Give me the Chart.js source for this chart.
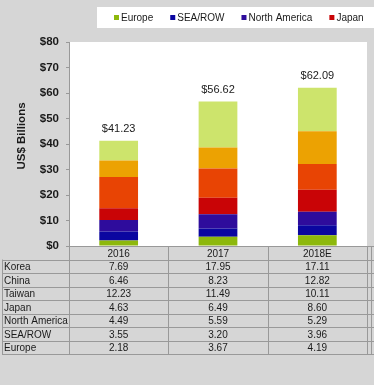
<!DOCTYPE html>
<html>
<head>
<meta charset="utf-8">
<script src="https://cdn.jsdelivr.net/npm/chart.js@4"></script>
<style>
  html, body { margin: 0; padding: 0; background: #d6d6d6; overflow: hidden; }
  #wrap { width: 374px; height: 385px; }
</style>
</head>
<body>
<div id="wrap"><canvas id="c" width="374" height="385"></canvas></div>
<script>
var years = ['2016', '2017', '2018E'];
// stack order, bottom to top
var europe = [2.18, 3.67, 4.19];
var seaRow = [3.55, 3.20, 3.96];
var northAmerica = [4.49, 5.59, 5.29];
var japan = [4.63, 6.49, 8.60];
var taiwan = [12.23, 11.49, 10.11];
var china = [6.46, 8.23, 12.82];
var korea = [7.69, 17.95, 17.11];
// totals as printed above the bars
var totalLabels = ['$41.23', '$56.62', '$62.09'];
var yTicks = [0, 10, 20, 30, 40, 50, 60, 70, 80];

var FONT = '"Liberation Sans", Arial, sans-serif';

var sets = [
  { label: 'Europe', data: europe, color: '#8db80c' },
  { label: 'SEA/ROW', data: seaRow, color: '#0a06a0' },
  { label: 'North America', data: northAmerica, color: '#2e0c9c' },
  { label: 'Japan', data: japan, color: '#c90406' },
  { label: 'Taiwan', data: taiwan, color: '#e84404' },
  { label: 'China', data: china, color: '#eca202' },
  { label: 'Korea', data: korea, color: '#cde46c' }
];

var extras = {
  id: 'extras',
  beforeDraw: function (chart) {
    var ctx = chart.ctx, a = chart.chartArea;
    ctx.save();
    ctx.fillStyle = '#ffffff';
    ctx.fillRect(a.left, a.top, a.right - a.left, a.bottom - a.top);
    ctx.restore();
  },
  afterDraw: function (chart) {
    var ctx = chart.ctx, a = chart.chartArea;
    var x = chart.scales.x;
    ctx.save();

    // y title
    ctx.translate(22, 136);
    ctx.rotate(-Math.PI / 2);
    ctx.fillStyle = '#1a1a1a';
    ctx.font = 'bold 11.5px ' + FONT;
    ctx.textAlign = 'center';
    ctx.textBaseline = 'middle';
    ctx.fillText('US$ Billions', 0, 0);
    ctx.setTransform(1, 0, 0, 1, 0, 0);

    // legend
    ctx.fillStyle = '#ffffff';
    ctx.fillRect(97, 7, 300, 21);
    ctx.font = '10px ' + FONT;
    ctx.textAlign = 'left';
    var lx = 114;
    sets.forEach(function (s) {
      ctx.fillStyle = s.color;
      ctx.fillRect(lx, 15, 5, 5);
      ctx.fillStyle = '#1a1a1a';
      ctx.fillText(s.label, lx + 7, 18);
      lx += 7 + ctx.measureText(s.label).width + 17;
    });

    // totals
    var last = chart.getDatasetMeta(chart.data.datasets.length - 1);
    ctx.font = '11px ' + FONT;
    ctx.textAlign = 'center';
    ctx.fillStyle = '#1a1a1a';
    totalLabels.forEach(function (t, i) {
      ctx.fillText(t, last.data[i].x, last.data[i].y - 12);
    });

    // data table
    var top = a.bottom, rh = 13.56, nRows = sets.length + 1;
    var bottom = top + rh * nRows;
    var step = x.getPixelForValue(1) - x.getPixelForValue(0);
    var bounds = [a.left];
    years.forEach(function (y, i) {
      bounds.push(x.getPixelForValue(i) + step / 2);
    });
    ctx.strokeStyle = '#999999';
    ctx.lineWidth = 1;
    ctx.beginPath();
    ctx.moveTo(a.left, top + 0.5); ctx.lineTo(374, top + 0.5);
    for (var r = 1; r <= nRows; r++) {
      var yy = Math.round(top + r * rh) + 0.5;
      ctx.moveTo(2, yy); ctx.lineTo(374, yy);
    }
    ctx.moveTo(2.5, top + rh); ctx.lineTo(2.5, bottom);
    bounds.forEach(function (b) {
      ctx.moveTo(Math.round(b) + 0.5, top); ctx.lineTo(Math.round(b) + 0.5, bottom);
    });
    ctx.moveTo(371.5, top); ctx.lineTo(371.5, bottom);
    ctx.stroke();

    ctx.font = '10px ' + FONT;
    ctx.fillStyle = '#1a1a1a';
    ctx.textBaseline = 'middle';
    ctx.textAlign = 'center';
    years.forEach(function (y, i) {
      ctx.fillText(y, x.getPixelForValue(i), top + rh / 2 + 1);
    });
    var rows = sets.slice().reverse();
    rows.forEach(function (s, r) {
      var cy = top + rh * (r + 1) + rh / 2 + 1;
      ctx.textAlign = 'left';
      ctx.fillText(s.label, 4, cy);
      ctx.textAlign = 'center';
      s.data.forEach(function (v, i) {
        ctx.fillText(v.toFixed(2), x.getPixelForValue(i), cy);
      });
    });
    ctx.restore();
  }
};

new Chart(document.getElementById('c'), {
  type: 'bar',
  data: {
    labels: years,
    datasets: sets.map(function (s) {
      return {
        label: s.label,
        data: s.data,
        backgroundColor: s.color,
        borderWidth: 0,
        barPercentage: 0.39,
        categoryPercentage: 1
      };
    })
  },
  options: {
    responsive: false,
    animation: false,
    layout: { padding: { top: 42, right: 7, bottom: 139, left: 0 } },
    plugins: { legend: { display: false }, tooltip: { enabled: false } },
    scales: {
      x: { stacked: true, display: false },
      y: {
        stacked: true,
        min: 0,
        max: 80,
        afterFit: function (scale) { scale.width = 69; },
        afterBuildTicks: function (scale) {
          scale.ticks = yTicks.map(function (v) { return { value: v }; });
        },
        ticks: {
          padding: 7,
          color: '#1a1a1a',
          font: { family: FONT, size: 11.5, weight: 'bold' },
          callback: function (v) { return '$' + v; }
        },
        grid: { drawOnChartArea: false, tickLength: 3, color: '#999999' },
        border: { color: '#999999' }
      }
    }
  },
  plugins: [extras]
});
</script>
</body>
</html>
